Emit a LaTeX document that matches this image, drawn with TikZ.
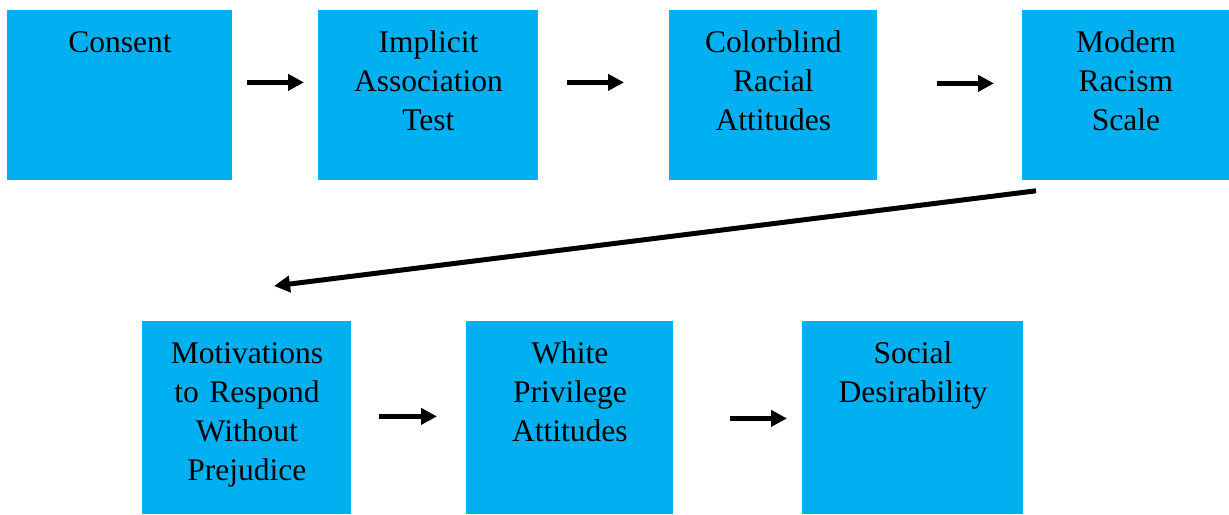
\documentclass[tikz,border=0pt]{standalone}
\usepackage{fontspec}
\setmainfont{Liberation Serif}
\usepackage{tikz}
\usetikzlibrary{arrows.meta}
\definecolor{boxblue}{HTML}{00B0F0}

\begin{document}
\begin{tikzpicture}[x=0.5pt, y=-0.5pt,
  stage/.style = {fill=boxblue, inner sep=0pt, anchor=north west, align=center,
    font=\fontsize{15.75}{19.5}\selectfont, text height=21pt},
  upper/.style = {stage, text depth=64pt},
  lower/.style = {stage, text depth=75.5pt},
  flow/.style = {line width=2.5pt, -{Triangle[length=8pt, width=8pt]}}]
\useasboundingbox (0,0) rectangle (1229,514);
\node[upper, text width=112.5pt] (cons) at (7,10) {Consent};
\node[upper, text width=110pt] (iat) at (318,10) {Implicit\\Association\\Test};
\node[upper, text width=104pt] (cbr) at (669,10) {Colorblind\\Racial\\Attitudes};
\node[upper, text width=103.5pt] (mrs) at (1022,10) {Modern\\Racism\\Scale};
\node[lower, text width=104.5pt] (mrp) at (142,321) {Motivations\\to Respond\\Without\\Prejudice};
\node[lower, text width=103.5pt] (wpa) at (466,321) {White\\Privilege\\Attitudes};
\node[lower, text width=110.5pt] (sds) at (802,321) {Social\\Desirability};
\draw[flow] ([shift={(14,-13)}]cons.east) -- ([shift={(-14,-13)}]iat.west);
\draw[flow] ([shift={(28,-13)}]iat.east) -- ([shift={(-45,-13)}]cbr.west);
\draw[flow] ([shift={(59,-12)}]cbr.east) -- ([shift={(-28,-12)}]mrs.west);
\draw[flow] ([shift={(14,10)}]mrs.south west) -- ([shift={(132,-35)}]mrp.north west);
\draw[flow] ([shift={(27,-1.5)}]mrp.east) -- ([shift={(-29,-1.5)}]wpa.west);
\draw[flow] ([shift={(56,0.5)}]wpa.east) -- ([shift={(-15,0.5)}]sds.west);
\end{tikzpicture}
\end{document}
